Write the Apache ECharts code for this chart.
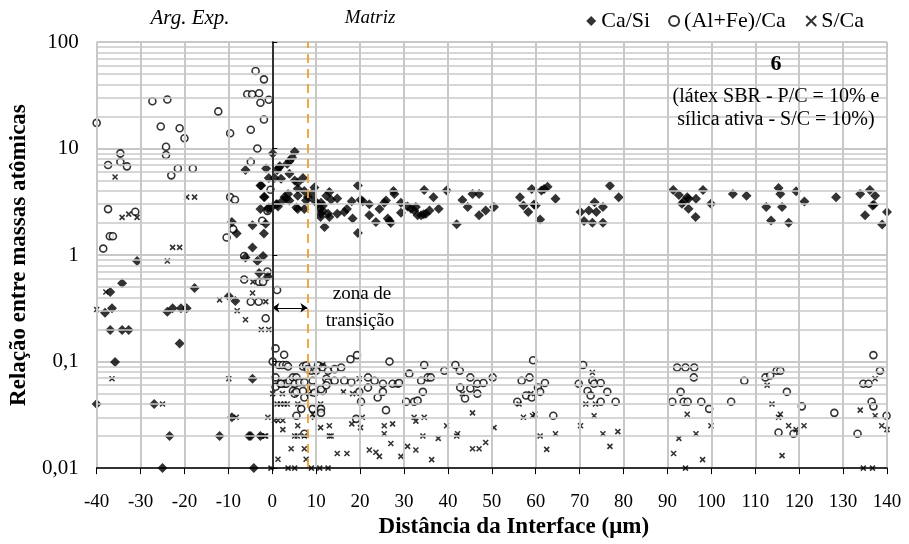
<!DOCTYPE html>
<html>
<head>
<meta charset="utf-8">
<script src="https://cdn.jsdelivr.net/npm/echarts@6.0.0/dist/echarts.min.js"></script>
<style>
  html, body { margin: 0; padding: 0; background: #fff; }
  #chart { width: 909px; height: 544px; }
</style>
</head>
<body>
<div id="chart"></div>
<script>
// Ca/Si
const caSi = [
  [-40,0.04],[-38.1,0.287],[-36.9,0.45],[-36.5,0.317],[-36.9,0.198],[-35.8,0.099],[-34.2,0.545],[-34.2,0.198],
  [-32.7,0.198],[-30.8,0.88],[-26.9,0.04],[-25,0.01],[-23.9,0.293],[-22.7,0.317],[-23.4,0.02],[-21.1,0.148],
  [-20.8,0.317],[-19.5,0.317],[-17.7,0.49],[-12,0.02],[-9.9,0.41],[-9.2,0.03],[-8.4,0.37],[-9.2,2.04],[-8.1,1.59],
  [-6.1,6.3],[-6.1,0.95],[-5.3,0.02],[-4.9,0.02],[-4.5,1.9],[-4.5,1.18],[-4.5,0.069],[-4.2,0.01],[-3.4,0.88],
  [-3.0,0.68],[-2.7,4.5],[-2.7,2.7],[-2.7,0.02],[-2.1,0.98],[-1.9,3.5],[-1.9,1.59],[-1.5,1.97],[-1.4,6.5],
  [-1.0,0.63],[-0.8,5.3],[-0.8,2.8],[-2.5,4.5],[-1.75,3.5],[-1.0,2.7],[-0.2,2.8],
  [0.1,9.0],[0.5,5.3],[1.5,6.6],[1.1,3.0],[5.1,9.35],[4.5,8.2],[3.9,7.6],[3.4,7.2],[1.7,6.8],[1.1,6.3],[3.9,5.8],
  [2.0,5.2],[5.1,5.0],[5.8,4.8],[7.0,5.3],[5.8,4.2],[7.3,4.0],[3.6,3.75],[2.8,3.5],[2.4,3.25],[3.2,3.4],[3.9,3.25],
  [5.8,3.6],[8.9,3.75],[9.6,4.3],[8.1,3.5],[7.7,3.25],[0.9,3.0],[1.3,2.85],[5.5,2.8],[5.8,2.7],[7.3,2.7],[9.6,3.25],
  [10.4,3.0],[11.1,3.1],[11.5,2.9],[10.8,2.7],[11.5,2.6],[11.1,2.44],[11.0,2.27],[13.0,3.9],[12.3,3.6],[13.4,3.3],
  [12.7,2.44],[13.0,2.27],[11.9,1.83],[14.8,3.4],[14.8,2.44],[16.4,2.53],[17.0,2.7],[18.1,3.2],[18.3,2.2],[19.5,4.5],
  [20.1,3.3],[20.6,3.2],[19.5,1.61],[22.1,3.0],[22.1,2.36],[23.6,2.04],[24.4,2.7],[25.5,3.1],[25.9,3.25],[26.3,2.2],
  [26.7,2.1],[27.0,2.0],[27.6,4.0],[27.8,3.75],[29.3,3.1],[29.3,2.5],[30.8,2.86],[31.6,2.72],[32.3,2.62],[32.7,2.82],
  [33.1,2.36],[33.9,2.36],[34.5,2.41],[34.6,4.08],[35.0,2.44],[35.8,2.62],[36.7,3.48],[37.9,2.72],[39.7,4.03],[42.0,1.95],
  [43.3,3.29],[44.5,2.82],[45.6,3.75],[47.1,3.75],[47.1,2.36],[48.6,2.62],[50.5,2.82],[56.4,3.48],[57.2,2.92],
  [59.1,4.17],[58.3,2.53],[59.6,2.98],[60,2.92],[61,2.16],[61.3,4.03],[61.9,4.17],[62.7,4.38],[64.5,3.37],[70.2,2.53],
  [71,2.09],[72.1,2.62],[72.9,2.01],[73.4,3.13],[73.8,2.53],[75.3,2.82],[75.3,2.01],[76.9,4.48],[78.9,3.48],
  [91.3,4.08],[92.6,3.67],[93.7,3.18],[94.5,3.48],[94.8,3.37],[93.3,3.03],[94.8,2.72],[96.4,2.27],[96.5,3.37],
  [98.1,4.08],[99.9,3.03],[104.9,3.75],[108,3.6],[112.5,2.82],[113.6,2.11],[115.3,4.26],[115.7,3.75],[116.1,2.82],
  [117.6,2.01],[119.3,3.97],[121.2,3.18],[128.4,3.48],[133.9,3.75],[136.1,4.08],[137.3,3.6],[137,2.96],[136.7,2.92],
  [135,2.36],[138.9,1.94],[140,2.53]
];

// (Al+Fe)/Ca
const alFeCa = [
  [-40,17.4],[-38.5,1.15],[-37.4,7.0],[-37.4,2.7],[-37,1.5],[-36.3,1.5],[-34.6,9.0],[-34.6,7.5],[-33.1,6.8],
  [-31.2,2.55],[-27.3,27.8],[-25.4,16.1],[-24.2,10.4],[-24.2,8.7],[-23.9,28.9],[-23,5.6],[-21.5,6.5],[-21.1,15.5],
  [-20,12.5],[-18.1,6.5],[-12.3,22.3],[-10.4,1.46],[-9.6,13.9],[-9.6,3.5],[-8.9,1.75],[-8.5,3.3],[-6.4,0.98],
  [-6.4,0.59],[-5.7,32.3],[-4.6,32.3],[-4.9,15.0],[-4.9,7.5],[-4.9,0.365],[-3.8,53.4],[-3.4,10.0],[-3.0,33],
  [-3.0,0.56],[-3.1,0.365],[-2.7,26.9],[-2.3,2.1],[-2.1,0.56],[-1.9,44.6],[-1.9,18.7],[-1.5,0.255],[-1.1,2.6],
  [-1.1,0.70],[-0.8,28.7],[-0.4,4.1],
  [1.1,0.47],[0.75,0.133],[2.7,0.116],[0.1,0.1],[1.5,0.093],[2.4,0.093],[3.2,0.093],[3.6,0.09],[0.75,0.058],
  [1.9,0.062],[2.8,0.062],[7.0,0.09],[7.7,0.092],[8.9,0.082],[8.1,0.085],[10.4,0.092],[10.0,0.082],[11.5,0.088],
  [12.7,0.082],[14.2,0.085],[15.7,0.088],[17.8,0.105],[19.3,0.115],[26.7,0.1],[34.6,0.093],[41.7,0.093],
  [0.75,0.071],[3.2,0.062],[2.0,0.062],[3.9,0.066],[4.7,0.071],[5.5,0.071],[5.1,0.062],[6.2,0.064],[7.3,0.064],
  [9.2,0.066],[12.3,0.069],[12.7,0.064],[14.2,0.066],[16.4,0.066],[18.0,0.064],[21.8,0.071],[23.3,0.066],
  [25.2,0.062],[27.4,0.062],[28.6,0.062],[28.9,0.063],[31.2,0.077],[35.4,0.071],[33.9,0.066],[36.1,0.071],
  [39.2,0.082],[42.7,0.082],
  [4.7,0.053],[5.1,0.05],[5.5,0.052],[7.0,0.053],[9.2,0.057],[9.6,0.051],[11.5,0.053],[11.1,0.055],[12.3,0.06],
  [19.8,0.052],[21.8,0.057],[24.0,0.046],[25.2,0.052],[30.5,0.042],[32.3,0.042],[33.1,0.043],[34.3,0.052],
  [20.2,0.042],[25.9,0.035],[7.3,0.046],[9.2,0.036],[11.1,0.036],[11.1,0.033],[5.5,0.031],[6.6,0.036],
  [19.1,0.029],[7.3,0.021],
  [42.8,0.057],[45.1,0.056],[43.9,0.045],[45.1,0.071],[46.7,0.062],[48.1,0.063],[46.7,0.05],[50.2,0.071],
  [55.8,0.042],[56.8,0.066],[57.8,0.048],[58.6,0.071],[59.1,0.046],[59.4,0.103],[60.5,0.057],[61,0.052],
  [62.1,0.063],[64,0.031],[70.8,0.093],[69.8,0.062],[71.8,0.053],[72.5,0.048],[72.9,0.066],[73.3,0.062],
  [74.8,0.063],[76.3,0.052],[74.8,0.042],[78.2,0.042],[91.1,0.042],[92.2,0.088],[94.1,0.088],[96.1,0.088],
  [93,0.052],[93.7,0.042],[94.6,0.042],[96,0.071],[97.7,0.042],[99.5,0.036],[104.5,0.042],[107.5,0.066],
  [112.3,0.071],[113.4,0.074],[114.9,0.082],[115.7,0.082],[117.2,0.052],[120.6,0.038],[115.3,0.0216],
  [118.7,0.021],[128,0.033],[133.3,0.021],[134.6,0.062],[135.8,0.062],[136.9,0.115],[138.4,0.082],
  [136.5,0.042],[136.9,0.038],[139.9,0.031]
];

// S/Ca
const sCa = [
  [-40,0.308],[-37.9,0.45],[-36.5,0.069],[-35.8,5.4],[-34.2,2.26],[-32.7,2.42],[-30.8,2.26],[-25,0.04],
  [-23.9,0.88],[-22.7,1.18],[-21.1,1.18],[-19.5,3.5],[-17.7,3.5],[-12,0.38],[-9.9,0.069],[-8.2,0.03],[-8.0,0.30],
  [-6.1,0.247],[-4.5,0.44],[-4.4,0.56],[-2.5,0.2],[-1.5,0.365],[-0.8,0.2],[-1.5,0.02],[-2.5,0.02],[-1.75,0.02],
  [-0.3,0.01],
  [0.1,0.05],[2.3,0.05],[1.1,0.04],[1.9,0.04],[2.7,0.04],[3.4,0.04],[5.8,0.04],[-1,0.03],[0.5,0.028],[1.3,0.028],
  [2.4,0.028],[2.4,0.023],[5.1,0.02],[5.7,0.02],[5.8,0.025],[7.3,0.02],[13.0,0.02],[13.4,0.02],[4.3,0.0152],
  [7.3,0.0152],[1.3,0.0121],[7.7,0.0121],[3.6,0.01],[5.1,0.01],[8.9,0.01],[10.8,0.01],[12.7,0.01],[8.4,0.05],
  [11.5,0.093],[9.2,0.032],[9.6,0.03],[11.0,0.04],[11,0.024],[13,0.025],[14.8,0.0137],[17,0.0137],[16.2,0.052],
  [18.3,0.05],[19.8,0.069],[18.1,0.026],[20.1,0.024],[20.5,0.03],[22.1,0.0148],[23.6,0.0141],[24.4,0.0129],
  [25.5,0.025],[25.5,0.021],[27,0.017],[27.4,0.026],[29.3,0.0129],[30.8,0.016],[32.7,0.0148],[32.3,0.03],
  [34.6,0.03],[32.7,0.0276],[34.3,0.02],[36.3,0.012],[37.8,0.019],[39.7,0.025],[42.2,0.021],
  [42,0.02],[43.3,0.05],[45.6,0.033],[45.6,0.0152],[47.1,0.0152],[48.6,0.0174],[50.5,0.024],[56.2,0.04],
  [57.2,0.03],[59.3,0.031],[59.8,0.032],[58.9,0.05],[61,0.02],[62.5,0.015],[64.5,0.021],[70.2,0.025],[71.4,0.04],
  [72.9,0.079],[73.6,0.04],[73.3,0.031],[75.3,0.021],[76.9,0.016],[78.7,0.022],[91.4,0.0137],[92.6,0.019],
  [94.1,0.01],[94.5,0.032],[96.5,0.021],[98,0.012],[99.9,0.025],[112.7,0.06],[113.8,0.04],[115.7,0.032],
  [115.3,0.03],[117.6,0.025],[119.3,0.023],[121.1,0.025],[116.1,0.0131],[133.9,0.035],[137.3,0.069],
  [137.3,0.031],[138.8,0.025],[140,0.023],[134.6,0.01],[136.7,0.01]
];

const xMin = -40, xMax = 140, xStep = 10;
const yMin = 0.01, yMax = 100;
const interfaceX = 0;      // interface da argamassa
const transitionX = 8;     // fim da zona de transição
const arrowY = 0.32;

const serif = "'Liberation Serif', 'Times New Roman', serif";
const gridGray = '#c8c8c8';

// linhas de grade secundárias (2..9 em cada década)
const minorLines = [];
[0.01, 0.1, 1, 10].forEach(d => {
  for (let k = 2; k <= 9; k++) minorLines.push({ yAxis: +(d * k).toPrecision(3) });
});

const txt = (x, y, text, font) => ({
  type: 'text', x: x, y: y, z: 100,
  style: { text: text, font: font, fill: '#000', align: 'center', verticalAlign: 'middle' }
});

const myChart = echarts.init(document.getElementById('chart'));

const option = {
  backgroundColor: '#fff',
  animation: false,
  textStyle: { fontFamily: serif, color: '#000' },
  grid: { left: 95, right: 22, top: 42, bottom: 74 },
  legend: {
    right: 40, top: 5,
    itemWidth: 10, itemHeight: 10, itemGap: 18,
    textStyle: { fontFamily: serif, fontSize: 22, color: '#000' },
    data: ['Ca/Si', '(Al+Fe)/Ca', 'S/Ca']
  },
  xAxis: {
    type: 'value', min: xMin, max: xMax, interval: xStep, z: 10,
    name: 'Distância da Interface (μm)',
    nameLocation: 'middle', nameGap: 45,
    nameTextStyle: { fontFamily: serif, fontSize: 23, fontWeight: 'bold', color: '#000', padding: [0, 0, 0, 44] },
    axisLine: { onZero: false, lineStyle: { color: '#000', width: 1.5 } },
    axisTick: { show: true, length: 6, lineStyle: { color: '#000' } },
    axisLabel: { fontFamily: serif, fontSize: 19, color: '#000', margin: 24 },
    splitLine: { show: true, lineStyle: { color: gridGray, width: 2 } }
  },
  yAxis: [
    {
      type: 'log', logBase: 10, min: yMin, max: yMax,
      name: 'Relação entre massas atômicas',
      nameLocation: 'middle', nameGap: 65,
      nameTextStyle: { fontFamily: serif, fontSize: 23, fontWeight: 'bold', color: '#000' },
      axisLine: { show: false, onZero: false },
      axisTick: { show: false },
      axisLabel: {
        fontFamily: serif, fontSize: 21, color: '#000', margin: 18,
        formatter: v => String(+v.toPrecision(3)).replace('.', ',')
      },
      splitLine: { show: true, lineStyle: { color: gridGray, width: 2 } }
    },
    {
      type: 'log', logBase: 10, min: yMin, max: yMax, z: 10,
      axisLine: { show: true, onZero: true, lineStyle: { color: '#000', width: 1.5 } },
      axisTick: { show: true, length: 5, lineStyle: { color: '#000' } },
      axisLabel: { show: false },
      splitLine: { show: false }
    }
  ],
  graphic: [
    txt(190, 18, 'Arg. Exp.', 'italic 21px ' + serif),
    txt(370, 18, 'Matriz', 'italic 19px ' + serif),
    txt(776, 64, '6', 'bold 22px ' + serif),
    txt(776, 97, '(látex SBR - P/C = 10% e', '20px ' + serif),
    txt(776, 120, 'sílica ativa - S/C = 10%)', '20px ' + serif),
    txt(362, 294, 'zona de', '19px ' + serif),
    txt(360, 321, 'transição', '19px ' + serif)
  ],
  series: [
    {
      name: 'Ca/Si', type: 'scatter', data: caSi,
      symbol: 'diamond', symbolSize: 10,
      itemStyle: { color: '#000' },
      z: 4
    },
    {
      name: '(Al+Fe)/Ca', type: 'scatter', data: alFeCa,
      symbol: 'circle', symbolSize: 7,
      itemStyle: { color: '#fff', borderColor: '#000', borderWidth: 1.6 },
      z: 3
    },
    {
      name: 'S/Ca', type: 'scatter', data: sCa,
      symbol: 'path://M0,0L10,10M10,0L0,10', symbolSize: 5,
      itemStyle: { color: 'none', borderColor: '#000', borderWidth: 1.6 },
      z: 3
    },
    {
      name: 'grade', type: 'scatter', data: [], silent: true, z: 1,
      markLine: {
        silent: true, symbol: 'none', animation: false,
        label: { show: false },
        lineStyle: { color: gridGray, width: 1.5, type: 'solid' },
        data: minorLines
      }
    },
    {
      name: 'linhas', type: 'scatter', data: [], silent: true, z: 5,
      markLine: {
        silent: true, animation: false,
        label: { show: false },
        data: [
          [
            { coord: [transitionX, yMin], symbol: 'none', lineStyle: { color: '#f0a030', width: 1.8, type: [9, 6] } },
            { coord: [transitionX, yMax], symbol: 'none' }
          ],
          [
            { coord: [interfaceX, arrowY], symbol: 'arrow', symbolSize: 7, lineStyle: { color: '#000', width: 1, type: 'solid' } },
            { coord: [transitionX, arrowY], symbol: 'arrow', symbolSize: 7 }
          ]
        ]
      }
    }
  ]
};

myChart.setOption(option);
</script>
</body>
</html>
